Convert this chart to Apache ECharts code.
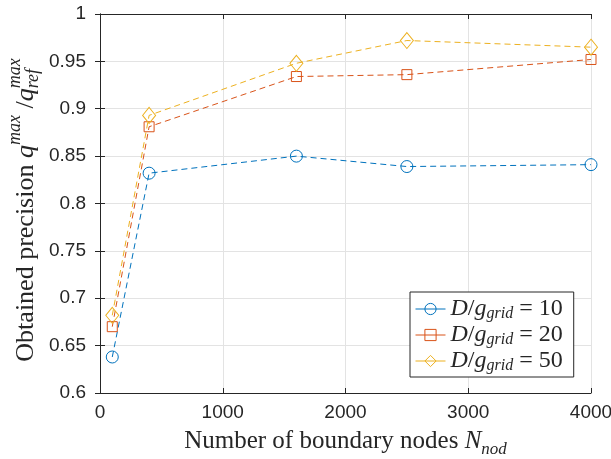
<!DOCTYPE html>
<html>
<head>
<meta charset="utf-8">
<script src="https://cdn.jsdelivr.net/npm/echarts@6/dist/echarts.min.js"></script>
<style>
  html, body { margin: 0; padding: 0; background: #fff; }
  #chart { width: 611px; height: 459px; }
</style>
</head>
<body>
<div id="chart"></div>
<script>
// Number of boundary nodes (x) and obtained precision for each grid ratio
var nodeCounts = [100, 400, 1600, 2500, 4000];
var precisionRatio10 = [0.638, 0.832, 0.850, 0.839, 0.841];
var precisionRatio20 = [0.670, 0.881, 0.934, 0.936, 0.952];
var precisionRatio50 = [0.682, 0.893, 0.948, 0.972, 0.965];
var gridRatios = [10, 20, 50];
var xTicks = { min: 0, max: 4000, interval: 1000 };
var yTicks = { min: 0.6, max: 1, interval: 0.05 };

var AXIS_COLOR = '#262626';
var SERIF = '"Liberation Serif", "DejaVu Serif", serif';
var SANS = '"Liberation Sans", Arial, sans-serif';

function mathRich(size, lh) {
  var small = Math.round(size * 0.68);
  return {
    rm: { fontFamily: SERIF, fontSize: size, lineHeight: lh, verticalAlign: 'middle', color: AXIS_COLOR },
    it: { fontFamily: SERIF, fontStyle: 'italic', fontSize: size, lineHeight: lh, verticalAlign: 'middle', color: AXIS_COLOR },
    sub: { fontFamily: SERIF, fontStyle: 'italic', fontSize: small, lineHeight: small, verticalAlign: 'bottom', color: AXIS_COLOR }
  };
}

var colors = ['#0072BD', '#D95319', '#EDB120'];
var symbols = ['circle', 'rect', 'diamond'];
var symbolSizes = [12, 10, [13, 16]];
var seriesValues = [precisionRatio10, precisionRatio20, precisionRatio50];

var series = seriesValues.map(function (vals, i) {
  return {
    name: 'D/g = ' + gridRatios[i],
    type: 'line',
    data: nodeCounts.map(function (x, k) { return [x, vals[k]]; }),
    symbol: symbols[i],
    symbolSize: symbolSizes[i],
    clip: false,
    itemStyle: { color: 'rgba(255,255,255,0)', borderColor: colors[i], borderWidth: 1 },
    lineStyle: { color: colors[i], width: 1, type: [6, 4] },
    emphasis: { disabled: true },
    z: 3 + i
  };
});

var legendLabels = {};
gridRatios.forEach(function (r) {
  legendLabels['D/g = ' + r] = '{it|D}{rm|/}{it|g}{sub|grid}{rm| = ' + r + '}';
});

// Rotated y-axis title built from pieces so that the stacked super/subscripts line up
function buildYTitle(centerX, centerY, size) {
  var small = Math.round(size * 0.68);
  var ctx = document.createElement('canvas').getContext('2d');
  function fontOf(sz, italic) { return (italic ? 'italic ' : '') + sz + 'px ' + SERIF; }
  function w(text, sz, italic) { ctx.font = fontOf(sz, italic); return ctx.measureText(text).width; }
  var pieces = [
    { t: 'Obtained precision ', sz: size, it: false, dy: 0 },
    { t: 'q', sz: size, it: true, dy: 0 },
    { t: 'max', sz: small, it: true, dy: -0.42 * size },
    { t: ' /', sz: size, it: false, dy: 0 },
    { t: 'q', sz: size, it: true, dy: 0 },
    { t: 'max', sz: small, it: true, dy: -0.42 * size, stack: true },
    { t: 'ref', sz: small, it: true, dy: 0.28 * size }
  ];
  var x = 0, children = [];
  for (var i = 0; i < pieces.length; i++) {
    var p = pieces[i];
    var pw = w(p.t, p.sz, p.it);
    children.push({
      type: 'text', x: x, y: p.dy,
      style: { text: p.t, font: fontOf(p.sz, p.it), fill: AXIS_COLOR, verticalAlign: 'middle', align: 'left' }
    });
    if (p.stack) {
      var next = pieces[i + 1];
      var nw = w(next.t, next.sz, next.it);
      children.push({
        type: 'text', x: x, y: next.dy,
        style: { text: next.t, font: fontOf(next.sz, next.it), fill: AXIS_COLOR, verticalAlign: 'middle', align: 'left' }
      });
      x += Math.max(pw, nw);
      i++;
    } else {
      x += pw;
    }
  }
  return {
    type: 'group',
    x: centerX, y: centerY + x / 2,
    rotation: Math.PI / 2,
    children: children
  };
}

var chart = echarts.init(document.getElementById('chart'), null, { renderer: 'canvas' });
chart.setOption({
  animation: false,
  backgroundColor: '#fff',
  grid: { left: 100, right: 20, top: 14, bottom: 66, containLabel: false, outerBoundsMode: 'none' },
  xAxis: [{
    type: 'value',
    min: xTicks.min, max: xTicks.max, interval: xTicks.interval,
    axisLine: { show: true, lineStyle: { color: AXIS_COLOR, width: 1 } },
    axisTick: { show: true, inside: true, length: 5, lineStyle: { color: AXIS_COLOR } },
    axisLabel: { fontFamily: SANS, fontSize: 19, color: AXIS_COLOR, margin: 10, formatter: function (v) { return String(v); } },
    splitLine: { show: true, lineStyle: { color: '#e3e3e3', width: 1 } },
    name: '{rm|Number of boundary nodes }{it|N}{sub|nod}',
    nameLocation: 'middle',
    nameGap: 32,
    nameTextStyle: { rich: mathRich(25, 33) }
  }, {
    type: 'value', position: 'top',
    min: xTicks.min, max: xTicks.max, interval: xTicks.interval,
    axisLine: { show: true, lineStyle: { color: AXIS_COLOR, width: 1 } },
    axisTick: { show: true, inside: true, length: 5, lineStyle: { color: AXIS_COLOR } },
    axisLabel: { show: false },
    splitLine: { show: false }
  }],
  yAxis: [{
    type: 'value',
    min: yTicks.min, max: yTicks.max, interval: yTicks.interval,
    axisLine: { show: true, lineStyle: { color: AXIS_COLOR, width: 1 } },
    axisTick: { show: true, inside: true, length: 5, lineStyle: { color: AXIS_COLOR } },
    axisLabel: { fontFamily: SANS, fontSize: 19, color: AXIS_COLOR, margin: 14, formatter: function (v) { return String(+v.toFixed(2)); } },
    splitLine: { show: true, lineStyle: { color: '#e3e3e3', width: 1 } }
  }, {
    type: 'value', position: 'right',
    min: yTicks.min, max: yTicks.max, interval: yTicks.interval,
    axisLine: { show: true, lineStyle: { color: AXIS_COLOR, width: 1 } },
    axisTick: { show: true, inside: true, length: 5, lineStyle: { color: AXIS_COLOR } },
    axisLabel: { show: false },
    splitLine: { show: false }
  }],
  legend: {
    orient: 'vertical',
    left: 410, top: 292,
    padding: [5, 11, 3, 5],
    itemGap: 1,
    itemWidth: 30,
    itemHeight: 14,
    backgroundColor: '#fff',
    borderColor: AXIS_COLOR,
    borderWidth: 1,
    borderRadius: 0,
    selectedMode: false,
    lineStyle: { type: 'solid', width: 1 },
    itemStyle: { borderWidth: 1 },
    formatter: function (name) { return legendLabels[name]; },
    textStyle: { rich: mathRich(24, 26) },
    data: series.map(function (s) { return s.name; })
  },
  graphic: [buildYTitle(26, 210, 26)],
  series: series
});
</script>
</body>
</html>
